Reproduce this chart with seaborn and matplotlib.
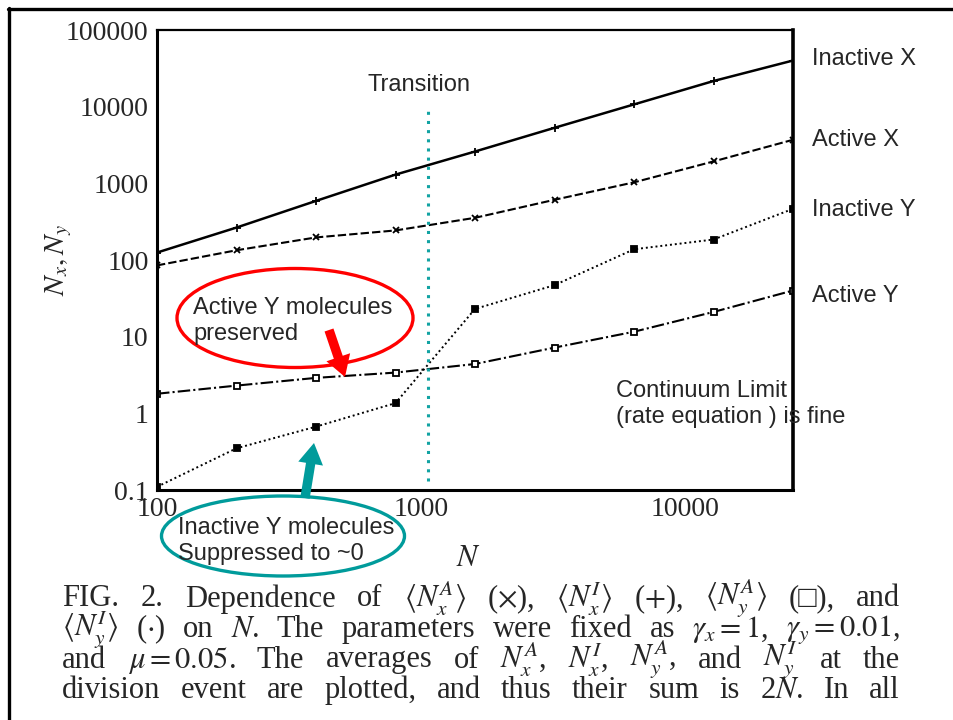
import numpy as np
import pandas as pd
import matplotlib
matplotlib.use("Agg")
import matplotlib.pyplot as plt
import seaborn as sns
from matplotlib.patches import Ellipse
from matplotlib.lines import Line2D
from matplotlib.ticker import FixedLocator, LogLocator, NullFormatter

# ---------------- data ----------------
N = [100, 200, 400, 800, 1600, 3200, 6400, 12800, 25600]
inactive_x = [125, 265, 590, 1300, 2600, 5300, 10700, 21600, 40000]
active_x = [85, 134, 197, 243, 355, 610, 1030, 1930, 3700]
inactive_y = [0.11, 0.35, 0.67, 1.36, 23, 47, 138, 185, 465]
active_y = [1.8, 2.3, 2.9, 3.4, 4.4, 7.2, 11.6, 21, 40]
transition_N = 1060
series_labels = ["Inactive X", "Active X", "Inactive Y", "Active Y"]
y_ticks = [0.1, 1, 10, 100, 1000, 10000, 100000]
y_tick_labels = ["0.1", "1", "10", "100", "1000", "10000", "100000"]
x_ticks = [100, 1000, 10000]
x_tick_labels = ["100", "1000", "10000"]
caption_lines = [
    r"FIG. 2. Dependence of $\langle N_x^A\rangle$ ($\times$), $\langle N_x^I\rangle$ ($+$), $\langle N_y^A\rangle$ (□), and",
    r"$\langle N_y^I\rangle$ ($\cdot$) on $N$. The parameters were fixed as $\gamma_x = 1$, $\gamma_y = 0.01$,",
    r"and $\mu = 0.05$. The averages of $N_x^A$, $N_x^I$, $N_y^A$, and $N_y^I$ at the",
    r"division event are plotted, and thus their sum is 2$N$. In all",
]

sns.set_style("white")
plt.rcParams["font.family"] = ["Liberation Sans", "DejaVu Sans"]
plt.rcParams["mathtext.fontset"] = "stix"

W, H = 954, 720
fig = plt.figure(figsize=(W / 100, H / 100), dpi=100)
fig.patch.set_facecolor("white")

# main axes
L, R, T, B = 157, 793, 30, 490
ax = fig.add_axes([L / W, 1 - B / H, (R - L) / W, (B - T) / H])

styles = [
    dict(y=inactive_x, ls="-", marker="+", ms=6, lw=1.8, dy=1),
    dict(y=active_x, ls=(0, (4, 1.5)), marker="x", ms=5, lw=1.5, dy=0),
    dict(y=inactive_y, ls=(0, (1, 1.5)), marker="s", ms=4, lw=1.4, dy=-1),
    dict(y=active_y, ls=(0, (6, 1.5, 1, 1.5)), marker="s", ms=4.5, lw=1.5, dy=-4),
]
for i, st in enumerate(styles):
    df = pd.DataFrame({"N": N, "v": st["y"]})
    mfc = "white" if i == 3 else "black"
    sns.lineplot(data=df, x="N", y="v", ax=ax, color="black", linestyle=st["ls"],
                 lw=st["lw"], marker=st["marker"], markersize=st["ms"],
                 markerfacecolor=mfc, markeredgecolor="black", markeredgewidth=1.3)

ax.set_xscale("log")
ax.set_yscale("log")
ax.set_xlim(100, 25600)
ax.set_ylim(0.1, 100000)

ax.axvline(transition_N, ymin=0.02, ymax=0.825, color="#12A3A3", lw=2.2,
           linestyle=(0, (1, 2)))

ax.yaxis.set_major_locator(FixedLocator(y_ticks))
ax.set_yticklabels(y_tick_labels)
ax.xaxis.set_major_locator(FixedLocator(x_ticks))
ax.set_xticklabels(x_tick_labels)
ax.yaxis.set_minor_locator(LogLocator(base=10, subs=(2, 4, 6, 8)))
ax.xaxis.set_minor_locator(LogLocator(base=10, subs=np.arange(2, 10)))
ax.xaxis.set_minor_formatter(NullFormatter())
ax.yaxis.set_minor_formatter(NullFormatter())

serif = ["Liberation Serif", "DejaVu Serif"]
ax.tick_params(axis="both", which="major", direction="in", length=10, width=1.8,
               labelsize=20, top=False, right=False)
ax.tick_params(axis="both", which="minor", direction="in", length=5.5, width=1.5,
               top=False, right=False)
ax.tick_params(axis="y", which="major", pad=6)
ax.tick_params(axis="x", which="major", pad=5)
for lab in ax.get_xticklabels() + ax.get_yticklabels():
    lab.set_fontfamily(serif)

for s in ax.spines.values():
    s.set_color("black")
ax.spines["left"].set_linewidth(2.2)
ax.spines["bottom"].set_linewidth(2.2)
ax.spines["top"].set_linewidth(1.6)
ax.spines["right"].set_linewidth(2.6)

ax.set_xlabel("$N$", fontsize=22)
ax.set_ylabel("$N_x, N_y$", fontsize=21)
ax.yaxis.set_label_coords(-0.13, 0.50)
ax.xaxis.set_label_coords(0.49, -0.115)

# labels at ends of lines
for lbl, st in zip(series_labels, styles):
    ax.annotate(lbl, xy=(N[-1], st["y"][-1]), xytext=(14, st["dy"]), textcoords="offset points",
                fontsize=17, va="center", ha="left", annotation_clip=False)

# overlay in pixel coordinates
ov = fig.add_axes([0, 0, 1, 1], facecolor="none")
ov.set_xlim(0, W)
ov.set_ylim(H, 0)
ov.axis("off")

ov.add_line(Line2D([9, 9], [8, H], color="black", lw=2.4))
ov.add_line(Line2D([8, W], [9, 9], color="black", lw=2.4))

ov.text(368, 85, "Transition", fontsize=17, va="center", ha="left")
ov.add_patch(Ellipse((295, 318), 236, 99, fill=False, ec="#FF0000", lw=2.4))
ov.text(193, 321, "Active Y molecules\npreserved", fontsize=17, va="center", ha="left",
        linespacing=1.2)
ov.annotate("", xy=(345, 377), xytext=(329, 330),
            arrowprops=dict(arrowstyle="simple,head_width=1.2,head_length=1.0,tail_width=0.45",
                            color="#FF0000", lw=0, mutation_scale=15, shrinkA=0, shrinkB=0))

ov.add_patch(Ellipse((283, 536), 243, 80, fill=False, ec="#009B9B", lw=2.4))
ov.text(178, 541, "Inactive Y molecules\nSuppressed to ~0", fontsize=17, va="center",
        ha="left", linespacing=1.2)
ov.annotate("", xy=(314, 443), xytext=(305, 498),
            arrowprops=dict(arrowstyle="simple,head_width=1.2,head_length=1.0,tail_width=0.45",
                            color="#009B9B", lw=0, mutation_scale=15, shrinkA=0, shrinkB=0))

ov.text(616, 404, "Continuum Limit\n(rate equation ) is fine", fontsize=17, va="center",
        ha="left", linespacing=1.2)


# justified caption (word by word)
def split_tokens(s):
    out, cur, inmath = [], "", False
    for ch in s:
        if ch == "$":
            inmath = not inmath
        if ch == " " and not inmath:
            if cur:
                out.append(cur)
            cur = ""
        else:
            cur += ch
    if cur:
        out.append(cur)
    return out


renderer = fig.canvas.get_renderer()
x0, x1 = 62, 900
for i, line in enumerate(caption_lines):
    toks = split_tokens(line)
    texts = [ov.text(0, 599 + 30.5 * i, t, fontsize=22, va="center", ha="left",
                     family=["Liberation Serif", "DejaVu Sans"]) for t in toks]
    widths = [t.get_window_extent(renderer).width for t in texts]
    gap = (x1 - x0 - sum(widths)) / max(len(toks) - 1, 1)
    x = x0
    for t, w in zip(texts, widths):
        t.set_x(x)
        x += w + gap

fig.savefig("out.png", dpi=100, facecolor="white")
